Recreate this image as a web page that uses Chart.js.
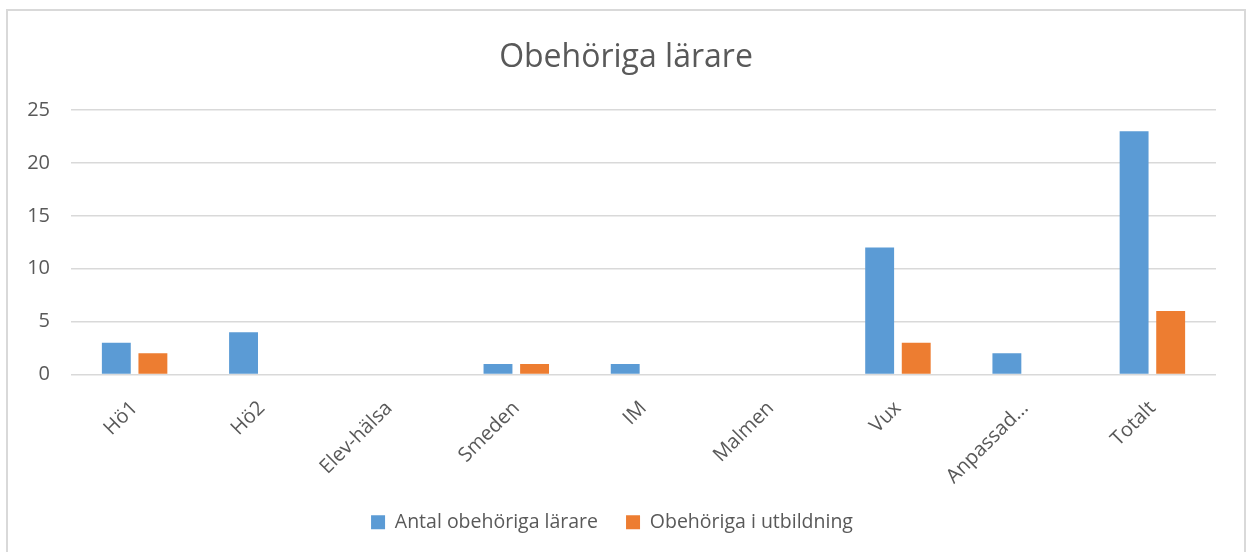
<!DOCTYPE html>
<html>
<head>
<meta charset="utf-8">
<script src="https://cdn.jsdelivr.net/npm/chart.js@4"></script>
<style>
  html, body { margin: 0; padding: 0; background: #fff; }
  #wrap { position: absolute; left: 0; top: 0; width: 1252px; height: 552px; }
  #frame { position: absolute; left: 6px; top: 9px; width: 1240px; height: 560px; border: 2px solid #d9d9d9; box-sizing: border-box; pointer-events: none; }
</style>
</head>
<body>
<div id="wrap"><canvas id="c" width="1252" height="552"></canvas></div>
<div id="frame"></div>
<script>
const categories = ["Hö1", "Hö2", "Elev-hälsa", "Smeden", "IM", "Malmen", "Vux", "Anpassad...", "Totalt"];
const antalObehoriga = [3, 4, 0, 1, 1, 0, 12, 2, 23];
const obehorigaUtbildning = [2, 0, 0, 1, 0, 0, 3, 0, 6];
const seriesNames = ["Antal obehöriga lärare", "Obehöriga i utbildning"];
const yTicks = [0, 5, 10, 15, 20, 25];

const textColor = "#595959";
const fontFamily = "'Open Sans', 'Liberation Sans', sans-serif";

const legendShift = {
  id: "legendShift",
  afterLayout(chart) {
    const l = chart.legend;
    if (l) { l.left -= 14; l.right -= 14; }
  }
};

new Chart(document.getElementById("c"), {
  type: "bar",
  data: {
    labels: categories,
    datasets: [
      { label: seriesNames[0], data: antalObehoriga, backgroundColor: "#5B9BD5", categoryPercentage: 0.575, barPercentage: 0.79 },
      { label: seriesNames[1], data: obehorigaUtbildning, backgroundColor: "#ED7D31", categoryPercentage: 0.575, barPercentage: 0.79 }
    ]
  },
  plugins: [legendShift],
  options: {
    responsive: false,
    animation: false,
    devicePixelRatio: 1,
    layout: { padding: { top: 20, left: 0, right: 0, bottom: 10 } },
    plugins: {
      title: {
        display: true,
        text: "Obehöriga lärare",
        color: textColor,
        font: { family: fontFamily, size: 32, weight: "normal" },
        padding: { top: 19, bottom: 32.6 }
      },
      legend: {
        display: true,
        position: "bottom",
        labels: {
          color: textColor,
          font: { family: fontFamily, size: 19.5 },
          boxWidth: 14,
          boxHeight: 14,
          padding: 28
        }
      },
      tooltip: { enabled: false }
    },
    scales: {
      x: {
        grid: { display: false, drawTicks: false },
        border: { display: false },
        ticks: {
          color: textColor,
          font: { family: fontFamily, size: 20 },
          minRotation: 45,
          maxRotation: 45,
          padding: 22,
          autoSkip: false
        },
        afterFit: (s) => { s.height = 110; }
      },
      y: {
        min: 0,
        max: 25,
        afterBuildTicks: (s) => { s.ticks = yTicks.map(v => ({ value: v })); },
        grid: { color: "#d9d9d9", lineWidth: 1.5, drawTicks: false },
        border: { display: false },
        ticks: {
          color: textColor,
          font: { family: fontFamily, size: 20 },
          padding: 21
        },
        afterFit: (s) => { s.width = 71; }
      },
      yRight: {
        axis: "y",
        position: "right",
        min: 0,
        max: 25,
        display: true,
        grid: { display: false, drawTicks: false },
        border: { display: false },
        ticks: { display: false },
        afterFit: (s) => { s.width = 36; }
      }
    }
  }
});
</script>
</body>
</html>
